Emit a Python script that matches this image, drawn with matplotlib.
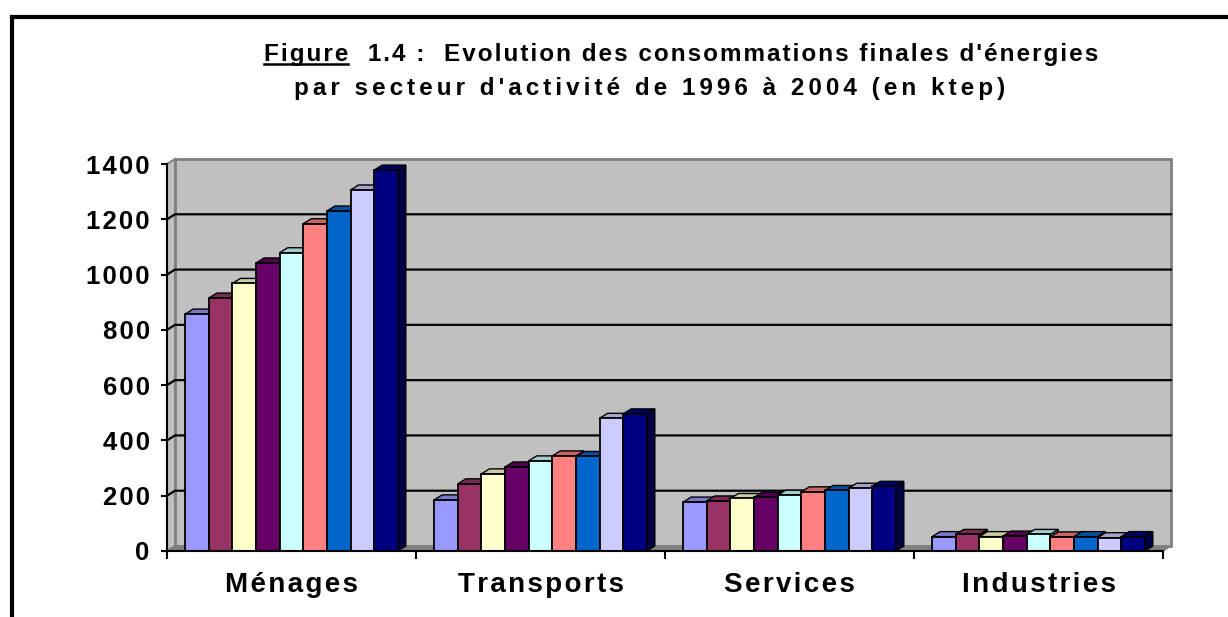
import matplotlib.pyplot as plt
from matplotlib.patches import Polygon, Rectangle
from matplotlib.lines import Line2D
from matplotlib.colors import to_rgb

# données (ktep)
secteurs = ['Ménages', 'Transports', 'Services', 'Industries']
annees = ['1996', '1997', '1998', '1999', '2000', '2001', '2002', '2003', '2004']
menages = [857, 915, 968, 1042, 1079, 1184, 1230, 1306, 1378]
transports = [185, 243, 279, 304, 326, 344, 342, 480, 496]
services = [177, 181, 190, 194, 202, 214, 219, 227, 234]
industries = [52, 60, 52, 54, 60, 51, 52, 48, 52]
couleurs = ['#9999FF', '#993366', '#FFFFCC', '#660066', '#CCFFFF',
            '#FF8080', '#0066CC', '#CCCCFF', '#000080']
yticks = [0, 200, 400, 600, 800, 1000, 1200, 1400]

FONT = ['Liberation Sans', 'DejaVu Sans']


def spaced(s, n=1):
    # petit espacement entre les lettres comme dans l'original
    return ('\u200a' * n).join(s)


def shade(c, f):
    r, g, b = to_rgb(c)
    return (r * f, g * f, b * f)


W, H = 1228, 617
fig = plt.figure(figsize=(W / 100, H / 100), dpi=100)

# axe "avant" du graphe 3D
x0, x1, y0, y1 = 167, 1163, 551, 164
ax = fig.add_axes([x0 / W, 1 - y0 / H, (x1 - x0) / W, (y0 - y1) / H])
ax.set_xlim(0, 4)
ax.set_ylim(0, 1400)
ax.set_facecolor('none')

ppx = (x1 - x0) / 4
ppy = (y0 - y1) / 1400
dx = 8 / ppx
dy = 5 / ppy

# murs et sol
ax.add_patch(Rectangle((dx, dy), 4, 1400, fc='#C0C0C0', ec='#808080', lw=2,
                       clip_on=False, zorder=0))
ax.add_patch(Polygon([(0, 0), (dx, dy), (dx, 1400 + dy), (0, 1400)],
                     fc='#C0C0C0', ec='#808080', lw=1.5, clip_on=False, zorder=0))
ax.add_patch(Polygon([(0, 0), (4, 0), (4 + dx, dy), (dx, dy)],
                     fc='#808080', ec='#808080', lw=1, clip_on=False, zorder=0.5))
for v in yticks[1:-1]:
    ax.plot([0, dx, 4 + dx], [v, v + dy, v + dy], color='black', lw=1.6,
            zorder=1, clip_on=False)

# barres
w = 0.854 / 9
series = [menages, transports, services, industries]
for j in range(len(annees)):
    vals = [s[j] for s in series]
    for i, v in enumerate(vals):
        x = i + 0.5 + (j - 4) * w
        z = 2 + j * 0.1
        xl, xr = x - w / 2, x + w / 2
        ax.add_patch(Polygon([(xr, 0), (xr + dx, dy), (xr + dx, v + dy), (xr, v)],
                             fc=shade(couleurs[j], 0.55), ec='black', lw=1,
                             clip_on=False, zorder=z))
        ax.add_patch(Polygon([(xl, v), (xr, v), (xr + dx, v + dy), (xl + dx, v + dy)],
                             fc=shade(couleurs[j], 0.8), ec='black', lw=1,
                             clip_on=False, zorder=z))
    ax.bar([i + 0.5 + (j - 4) * w for i in range(4)], vals, width=w,
           color=couleurs[j], edgecolor='black', lw=1.3, zorder=2 + j * 0.1 + 0.05,
           label=annees[j])

# axes
for s in ['top', 'right']:
    ax.spines[s].set_visible(False)
for s in ['left', 'bottom']:
    ax.spines[s].set_color('black')
    ax.spines[s].set_linewidth(1.5)
    ax.spines[s].set_zorder(5)

ax.set_yticks(yticks)
ax.set_yticklabels([spaced(str(t)) for t in yticks], fontsize=18.5,
                   fontweight='bold', family=FONT)
ax.tick_params(axis='y', direction='out', length=4.5, width=1.5, pad=8)

ax.set_xticks([0, 1, 2, 3, 4])
ax.set_xticklabels([])
ax.tick_params(axis='x', which='major', direction='out', length=6, width=1.5)
ax.set_xticks([0.5, 1.5, 2.5, 3.5], minor=True)
ax.set_xticklabels([spaced(s) for s in secteurs], minor=True, fontsize=20,
                   fontweight='bold', family=FONT)
ax.tick_params(axis='x', which='minor', length=0, pad=15)

# cadre
fig.add_artist(Rectangle((12 / W, -0.1), 2, 1 - 16.5 / H + 0.1,
                         transform=fig.transFigure, fill=False, ec='black', lw=3))

# titre
l1 = 'Figure  1.4 :  Evolution des consommations finales d\'énergies'
l2 = 'par secteur d\'activité de 1996 à 2004 (en ktep)'
t1 = fig.text(681 / W, 1 - 55 / H, spaced(l1), ha='center', va='center',
              fontsize=17.5, fontweight='bold', family=FONT)
fig.text(650 / W, 1 - 89 / H, spaced(l2, 2), ha='center', va='center',
         fontsize=17.5, fontweight='bold', family=FONT)

r = fig.canvas.get_renderer()
bb = t1.get_window_extent(r)
tmp = fig.text(0, 0, spaced('Figure'), fontsize=17.5, fontweight='bold', family=FONT)
wf = tmp.get_window_extent(r).width
tmp.remove()
yu = (bb.y0 + 3) / H
fig.add_artist(Line2D([bb.x0 / W, (bb.x0 + wf) / W], [yu, yu],
                      transform=fig.transFigure, color='black', lw=1.8))

fig.savefig('out.png', dpi=100)
